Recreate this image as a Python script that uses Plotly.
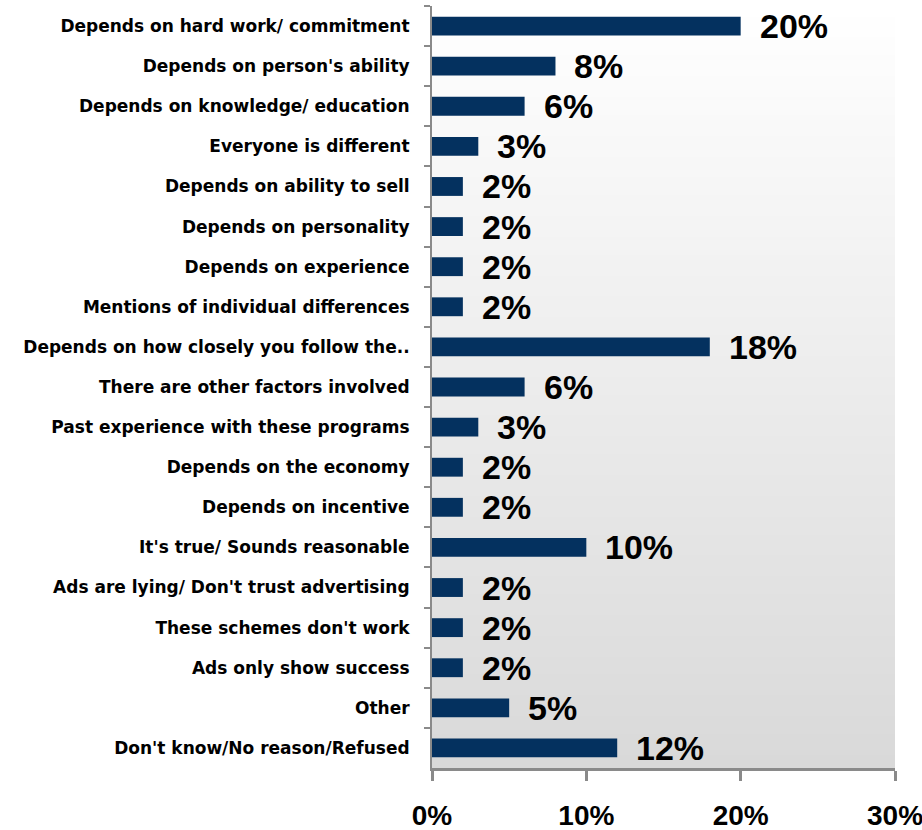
import base64
import struct
import zlib

import plotly.graph_objects as go

# Survey reasons and share of respondents (%)
categories = [
    "Depends on hard work/ commitment",
    "Depends on person's ability",
    "Depends on knowledge/ education",
    "Everyone is different",
    "Depends on ability to sell",
    "Depends on personality",
    "Depends on experience",
    "Mentions of individual differences",
    "Depends on how closely you follow the..",
    "There are other factors involved",
    "Past experience with these programs",
    "Depends on the economy",
    "Depends on incentive",
    "It's true/ Sounds reasonable",
    "Ads are lying/ Don't trust advertising",
    "These schemes don't work",
    "Ads only show success",
    "Other",
    "Don't know/No reason/Refused",
]
values = [20, 8, 6, 3, 2, 2, 2, 2, 18, 6, 3, 2, 2, 10, 2, 2, 2, 5, 12]
x_ticks = [0, 10, 20, 30]
x_tick_labels = ["0%", "10%", "20%", "30%"]

BAR_COLOR = "#04315f"
AXIS_COLOR = "#8a8a8a"


def vertical_gradient_png(top, bottom, rows=256):
    """Build a 1-pixel-wide PNG fading from `top` to `bottom` RGB."""
    raw = b""
    for i in range(rows):
        t = i / (rows - 1)
        px = bytes(round(a + (b - a) * t) for a, b in zip(top, bottom))
        raw += b"\x00" + px

    def chunk(tag, data):
        body = tag + data
        return struct.pack(">I", len(data)) + body + struct.pack(">I", zlib.crc32(body) & 0xFFFFFFFF)

    png = b"\x89PNG\r\n\x1a\n"
    png += chunk(b"IHDR", struct.pack(">IIBBBBB", 1, rows, 8, 2, 0, 0, 0))
    png += chunk(b"IDAT", zlib.compress(raw, 9))
    png += chunk(b"IEND", b"")
    return "data:image/png;base64," + base64.b64encode(png).decode()


fig = go.Figure()

fig.add_trace(
    go.Bar(
        x=values,
        y=categories,
        orientation="h",
        marker=dict(color=BAR_COLOR, line=dict(width=0)),
        width=0.47,
        hoverinfo="skip",
    )
)

# Percentage labels to the right of each bar
for cat, val in zip(categories, values):
    fig.add_annotation(
        x=val,
        y=cat,
        text=f"{val}%",
        showarrow=False,
        xanchor="left",
        yanchor="middle",
        xshift=17,
        font=dict(family="Liberation Sans, Arial, sans-serif", size=34, color="black", weight="bold"),
    )

fig.update_layout(
    width=922,
    height=830,
    margin=dict(l=432, r=27, t=6, b=62),
    paper_bgcolor="white",
    plot_bgcolor="white",
    showlegend=False,
    images=[
        dict(
            source=vertical_gradient_png((255, 255, 255), (217, 217, 217)),
            xref="paper",
            yref="paper",
            x=0,
            y=1,
            sizex=1,
            sizey=1,
            xanchor="left",
            yanchor="top",
            sizing="stretch",
            layer="below",
        )
    ],
    xaxis=dict(
        range=[0, 30],
        tickvals=x_ticks,
        ticktext=x_tick_labels,
        showgrid=False,
        zeroline=False,
        showline=True,
        linecolor=AXIS_COLOR,
        linewidth=3,
        ticks="outside",
        ticklen=10,
        tickwidth=3,
        tickcolor=AXIS_COLOR,
        ticklabelstandoff=10,
        ticklabeloverflow="allow",
        automargin=False,
        tickfont=dict(family="Liberation Sans, Arial, sans-serif", size=28, color="black", weight="bold"),
        fixedrange=True,
    ),
    yaxis=dict(
        type="category",
        categoryorder="array",
        categoryarray=categories,
        range=[len(categories) - 0.5, -0.5],
        tickson="boundaries",
        showgrid=False,
        zeroline=False,
        showline=True,
        linecolor=AXIS_COLOR,
        linewidth=2,
        ticks="outside",
        ticklen=6,
        tickwidth=2,
        tickcolor=AXIS_COLOR,
        ticklabelstandoff=17,
        automargin=False,
        tickfont=dict(family="DejaVu Sans, Verdana, sans-serif", size=17, color="black", weight="bold"),
        fixedrange=True,
    ),
)

fig.write_html("out.html")
